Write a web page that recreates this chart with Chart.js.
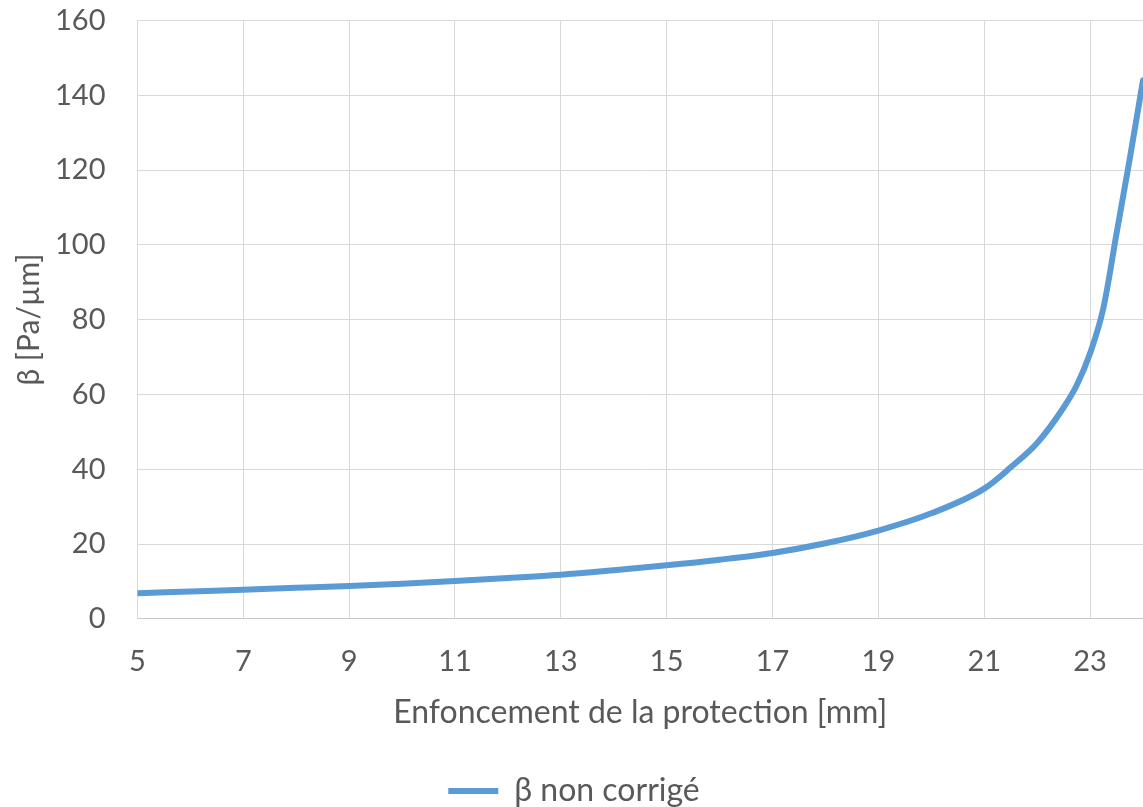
<!DOCTYPE html>
<html>
<head>
<meta charset="utf-8">
<script src="https://cdn.jsdelivr.net/npm/chart.js@4"></script>
<style>
  html, body { margin: 0; padding: 0; background: #fff; overflow: hidden; }
  #wrap { width: 1143px; height: 807px; }
</style>
</head>
<body>
<div id="wrap"><canvas id="betaChart"></canvas></div>
<script>
// --- Données ---
const enfoncement = [5, 6, 7, 8, 9, 10, 11, 12, 13, 14, 15, 16, 17, 18, 19, 20, 21, 21.5, 22, 22.5, 22.75, 23, 23.25, 23.5, 23.75, 24];
const betaNonCorrige = [6.8, 7.3, 7.8, 8.3, 8.8, 9.4, 10.1, 10.9, 11.8, 13.0, 14.3, 15.8, 17.6, 20.2, 23.6, 28.2, 34.8, 40.5, 47.0, 56.5, 62.5, 71, 83, 103, 123, 144];
const xTicks = [5, 7, 9, 11, 13, 15, 17, 19, 21, 23];
const seriesLabel = "β non corrigé";

const blue = "#5B9BD5";
const textGrey = "#595959";
const gridGrey = "#d9d9d9";

const points = enfoncement.map((x, i) => ({ x: x, y: betaNonCorrige[i] }));

new Chart(document.getElementById("betaChart"), {
  type: "line",
  data: {
    datasets: [{
      label: seriesLabel,
      data: points,
      borderColor: blue,
      backgroundColor: blue,
      borderWidth: 6,
      borderCapStyle: "round",
      cubicInterpolationMode: "monotone",
      pointRadius: 0,
      fill: false,
    }],
  },
  options: {
    responsive: true,
    maintainAspectRatio: false,
    animation: false,
    layout: { padding: { top: 0, right: 0, left: 5, bottom: -10 } },
    plugins: {
      tooltip: { enabled: false },
      legend: {
        position: "bottom",
        labels: {
          color: textGrey,
          font: { family: "Lato", size: 32 },
          usePointStyle: true,
          pointStyle: "line",
          pointStyleWidth: 50,
          boxHeight: 6,
          padding: 10,
        },
      },
    },
    scales: {
      x: {
        type: "linear",
        min: 5,
        max: 24,
        afterBuildTicks: (scale) => {
          scale.ticks = xTicks.map((v) => ({ value: v }));
        },
        // tick marks invisibles : servent d'espace entre l'axe et les libellés
        grid: { color: gridGrey, drawTicks: true, tickLength: 22, tickColor: "rgba(0,0,0,0)" },
        border: { color: "#c8c8c8" },
        ticks: {
          color: textGrey,
          font: { family: "Lato", size: 29 },
          padding: 3,
          maxRotation: 0,
        },
        title: {
          display: true,
          text: "Enfoncement de la protection [mm]",
          color: textGrey,
          font: { family: "Lato", size: 32 },
          padding: { top: 12, bottom: 33 },
        },
      },
      y: {
        min: 0,
        max: 160,
        ticks: {
          stepSize: 20,
          color: textGrey,
          font: { family: "Lato", size: 29 },
          padding: 3,
        },
        grid: { color: gridGrey, drawTicks: true, tickLength: 29, tickColor: "rgba(0,0,0,0)" },
        border: { color: gridGrey },
        title: {
          display: true,
          text: "β [Pa/µm]",
          color: textGrey,
          font: { family: "Lato", size: 30 },
          padding: { top: 6, bottom: 5 },
        },
      },
    },
  },
});
</script>
</body>
</html>
